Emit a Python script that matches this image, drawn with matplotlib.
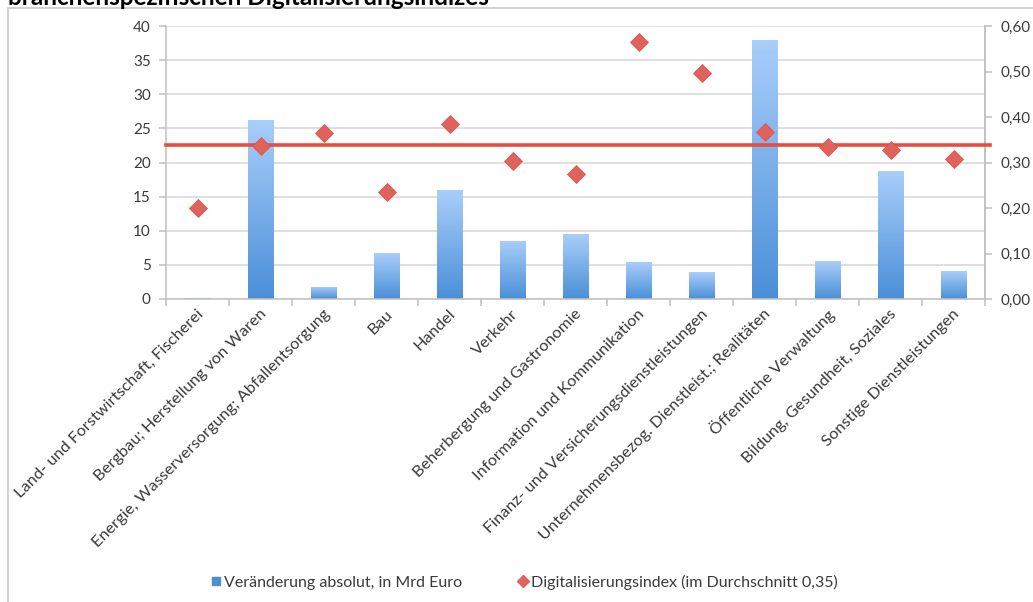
import matplotlib
matplotlib.use("Agg")
import matplotlib.pyplot as plt
import numpy as np
from matplotlib.patches import Rectangle
from matplotlib.lines import Line2D
from matplotlib.ticker import FuncFormatter, FixedLocator, NullFormatter
from matplotlib.transforms import ScaledTranslation
from matplotlib.colors import LinearSegmentedColormap

plt.rcParams['font.family'] = ['Lato', 'DejaVu Sans']

# --- data -------------------------------------------------------------
branchen = [
    "Land- und Forstwirtschaft, Fischerei",
    "Bergbau; Herstellung von Waren",
    "Energie, Wasserversorgung; Abfallentsorgung",
    "Bau",
    "Handel",
    "Verkehr",
    "Beherbergung und Gastronomie",
    "Information und Kommunikation",
    "Finanz- und Versicherungsdienstleistungen",
    "Unternehmensbezog. Dienstleist.; Realitäten",
    "Öffentliche Verwaltung",
    "Bildung, Gesundheit, Soziales",
    "Sonstige Dienstleistungen",
]
veraenderung_mrd = [0.1, 26.2, 1.8, 6.7, 15.9, 8.5, 9.5, 5.4, 3.9, 37.9, 5.5, 18.8, 4.1]
digitalisierungsindex = [0.20, 0.336, 0.365, 0.236, 0.385, 0.303, 0.274, 0.565,
                         0.496, 0.367, 0.335, 0.327, 0.307]
index_linie = 0.338
left_ticks = [0, 5, 10, 15, 20, 25, 30, 35, 40]
right_ticks = [0.0, 0.1, 0.2, 0.3, 0.4, 0.5, 0.6]

label_bar = "Veränderung absolut, in Mrd Euro"
label_idx = "Digitalisierungsindex (im Durchschnitt 0,35)"
titel = "branchenspezifischen Digitalisierungsindizes"

# --- figure -----------------------------------------------------------
W, H = 1033, 602
fig = plt.figure(figsize=(W / 100, H / 100), dpi=100)
fig.patch.set_facecolor("white")

# chart frame
fig.patches.append(Rectangle((8 / W, -0.1), 1.2, 1.1 - 7.5 / H,
                             transform=fig.transFigure, fill=False,
                             edgecolor="#c8c8c8", lw=1.2, zorder=0))
# title, partly outside the canvas
fig.text(8 / W, 1 - 5 / H, titel, fontsize=17.5, fontweight="bold",
         color="black", ha="left", va="baseline")

ax = fig.add_axes([166 / W, 1 - 299 / H, (985 - 166) / W, (299 - 26) / H])
x = np.arange(len(branchen))
grid_c = "#d6d6d6"
text_c = "#3a3a3a"

ax.grid(axis="y", color=grid_c, lw=1.1, zorder=0)
ax.set_axisbelow(True)

bars = ax.bar(x, veraenderung_mrd, width=0.41, color="none", zorder=2)
cmap = LinearSegmentedColormap.from_list("blu", ["#4a8fd8", "#a9cefa"])
grad = np.linspace(0, 1, 256).reshape(-1, 1)
for b in bars:
    x0, w, h = b.get_x(), b.get_width(), b.get_height()
    im = ax.imshow(grad, cmap=cmap, origin="lower", aspect="auto",
                   extent=[x0, x0 + w, 0, h], zorder=2, interpolation="bilinear")
    im.set_clip_path(b)
ax.set_xlim(-0.5, len(branchen) - 0.5)
ax.set_ylim(0, 40)
ax.yaxis.set_major_locator(FixedLocator(left_ticks))

ax.spines["top"].set_visible(False)
for s in ["left", "right", "bottom"]:
    ax.spines[s].set_color("#c0c0c0")
    ax.spines[s].set_linewidth(1.1)

# category boundaries carry the tick marks
ax.xaxis.set_major_locator(FixedLocator(np.arange(-0.5, len(branchen), 1.0)))
ax.xaxis.set_major_formatter(NullFormatter())
ax.tick_params(axis="x", length=5, color="#c0c0c0", width=1.1)
ax.tick_params(axis="y", length=5, color="#c0c0c0", width=1.1,
               labelsize=11, labelcolor=text_c, pad=6)

offset = ScaledTranslation(4 / 100, -13 / 100, fig.dpi_scale_trans)
for xi, name in zip(x, branchen):
    ax.text(xi, 0, name, rotation=45, rotation_mode="anchor",
            ha="right", va="center", fontsize=11.8, color=text_c,
            transform=ax.transData + offset, clip_on=False)

ax2 = ax.twinx()
ax2.set_ylim(0, 0.6)
ax2.yaxis.set_major_locator(FixedLocator(right_ticks))
ax2.yaxis.set_major_formatter(FuncFormatter(lambda v, p: f"{v:.2f}".replace(".", ",")))
ax2.tick_params(axis="y", length=5, color="#c0c0c0", width=1.1,
                labelsize=11, labelcolor=text_c, pad=6)
for s in ["top", "left", "bottom"]:
    ax2.spines[s].set_visible(False)
ax2.spines["right"].set_color("#c0c0c0")
ax2.spines["right"].set_linewidth(1.1)

ax2.axhline(index_linie, xmin=0, xmax=1.006, color="#ea4b3f", lw=2.6,
            zorder=3, clip_on=False)
ax2.plot(x, digitalisierungsindex, linestyle="none", marker="D", ms=9.5,
         markerfacecolor="#e0625c", markeredgecolor="#d65a55", mew=0.6, zorder=4)

handles = [
    Line2D([], [], linestyle="none", marker="s", ms=6, color="#4a8fd8"),
    Line2D([], [], linestyle="none", marker="D", ms=6, color="#e0625c"),
]
fig.legend(handles, [label_bar, label_idx], loc="center",
           bbox_to_anchor=(524 / W, 1 - 582 / H), ncol=2, frameon=False,
           fontsize=11.5, labelcolor=text_c, handletextpad=0.1,
           columnspacing=3.4, handlelength=0.8)

fig.savefig("out.png", dpi=100)
